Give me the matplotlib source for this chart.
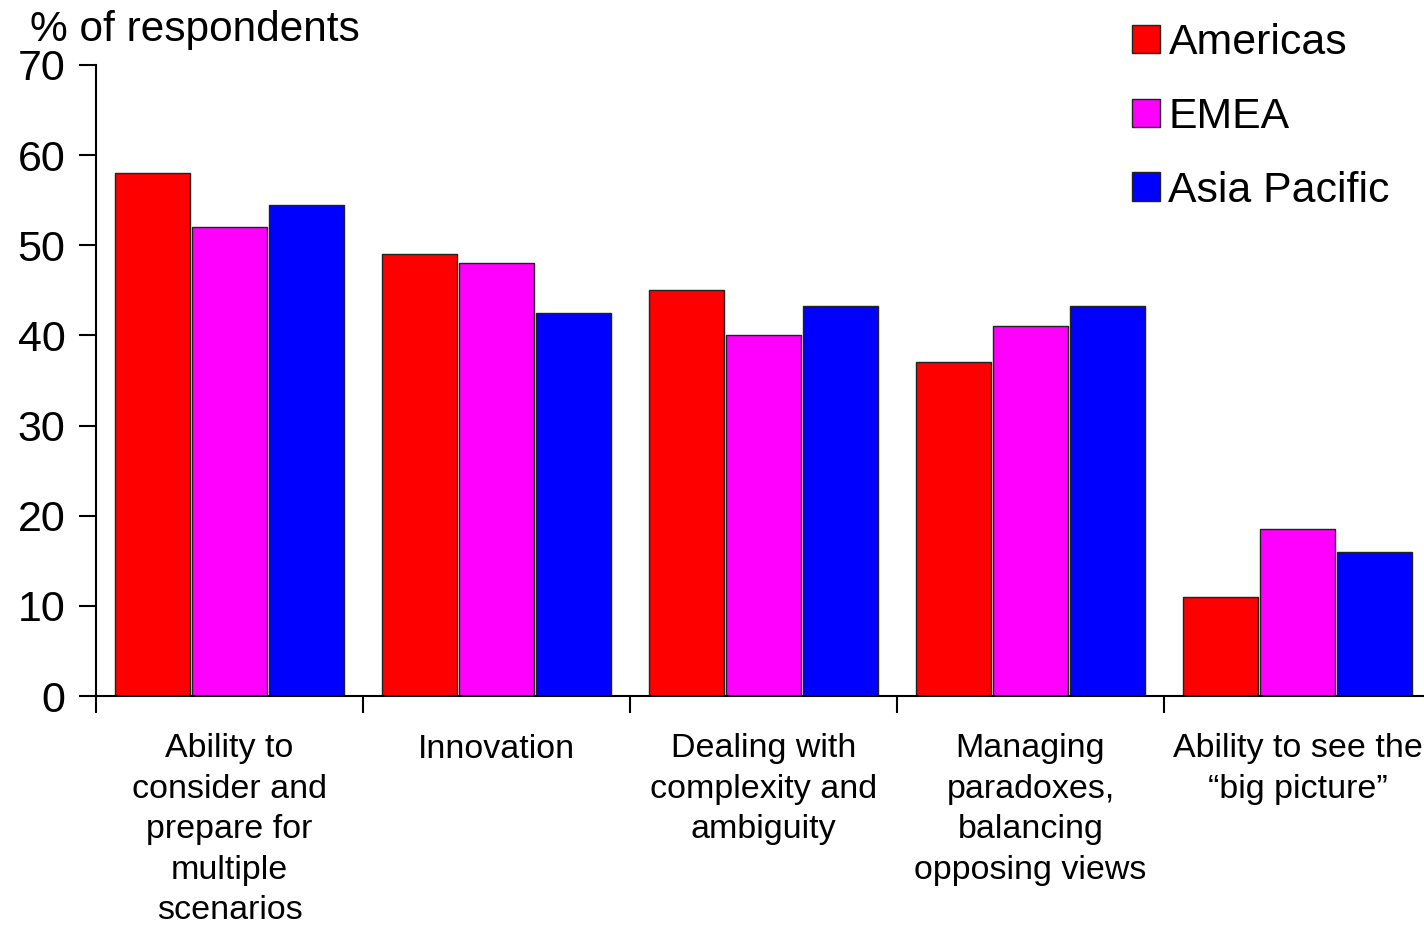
import numpy as np
from matplotlib import pyplot as plt
from matplotlib.ticker import FixedLocator

plt.rcParams['font.family'] = ['Liberation Sans', 'DejaVu Sans']

# skills asked about and share of respondents per region
categories = [
    'Ability to\nconsider and\nprepare for\nmultiple\nscenarios',
    'Innovation',
    'Dealing with\ncomplexity and\nambiguity',
    'Managing\nparadoxes,\nbalancing\nopposing views',
    'Ability to see the\n\u201cbig picture\u201d',
]
regions = ['Americas', 'EMEA', 'Asia Pacific']
americas = [58, 49, 45, 37, 11]
emea = [52, 48, 40, 41, 18.5]
asia_pacific = [54.5, 42.5, 43.3, 43.3, 16]
colors = ['#FF0000', '#FF00FF', '#0000FF']

fig = plt.figure(figsize=(14.24, 9.25), dpi=100)
ax = fig.add_axes([96 / 1424, 229 / 925, 1335 / 1424, 631 / 925])

x = np.arange(len(categories))
w = 0.287
for i, (vals, name) in enumerate(zip([americas, emea, asia_pacific], regions)):
    ax.bar(x + (i - 1) * w, vals, width=w * 0.98, color=colors[i],
           edgecolor='#222222', linewidth=1, label=name)

ax.set_xlim(-0.5, len(categories) - 0.5)
ax.set_ylim(0, 70)
ax.set_yticks(range(0, 71, 10))
ax.tick_params(axis='y', labelsize=31, length=12, width=1.5, pad=10)

# labels under the groups, ticks between them
ax.set_xticks(x)
ax.set_xticklabels(categories, fontsize=24.5, linespacing=1.39)
ax.tick_params(axis='x', which='major', length=0, pad=27)
ax.xaxis.set_minor_locator(FixedLocator(np.arange(-0.5, len(categories), 1.0)))
ax.tick_params(axis='x', which='minor', length=12, width=1.5, direction='out')

for s in ['top', 'right']:
    ax.spines[s].set_visible(False)
for s in ['left', 'bottom']:
    ax.spines[s].set_linewidth(1.5)

fig.text(30 / 1424, 1 - 30 / 925, '% of respondents', fontsize=30.5, va='center', ha='left')

leg = fig.legend(loc='upper left', bbox_to_anchor=(1115 / 1424, 1 - 6 / 925),
                 fontsize=30.8, frameon=False, handlelength=0.65, handleheight=0.65,
                 handletextpad=0.2, labelspacing=0.79, borderaxespad=0)

fig.savefig('out.png', dpi=100)
